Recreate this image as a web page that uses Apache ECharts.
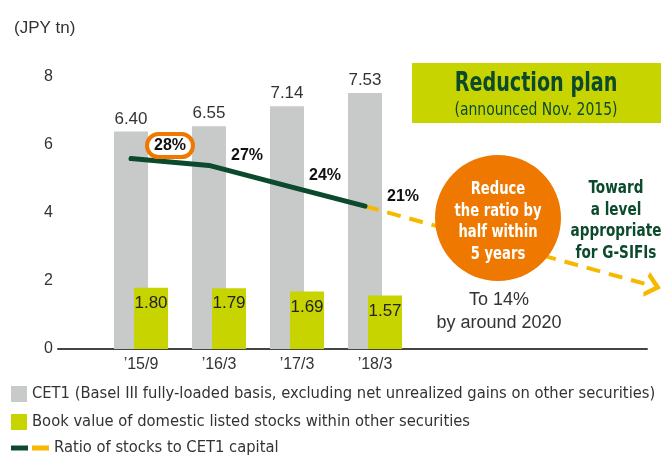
<!DOCTYPE html>
<html>
<head>
<meta charset="utf-8">
<script src="https://cdn.jsdelivr.net/npm/echarts@6/dist/echarts.min.js"></script>
<style>
  html, body { margin: 0; padding: 0; background: #fff; }
  #chart { width: 661px; height: 458px; }
</style>
</head>
<body>
<div id="chart"></div>
<script>
// data
var categories = ['\u201915/9', '\u201916/3', '\u201917/3', '\u201918/3'];
var cet1 = [6.40, 6.55, 7.14, 7.53];
var bookValue = [1.80, 1.79, 1.69, 1.57];
var ratio = [28, 27, 24, 21];          // % of CET1
var projectionRatio = [21, 9.3];       // dashed arrow, from '18/3 to arrow head
var yTicks = [0, 2, 4, 6, 8];

var NAME_CET1 = 'CET1 (Basel III fully-loaded basis, excluding net unrealized gains on other securities)';
var NAME_BOOK = 'Book value of domestic listed stocks within other securities';
var NAME_RATIO = 'Ratio of stocks to CET1 capital';

var GRAY = '#c8c9c9', LIME = '#c8d400', DKGREEN = '#0b4a2c', YELLOW = '#f7b900', ORANGE = '#ee7800';
var NARROW = '"DejaVu Sans Condensed", "Liberation Sans Narrow", "Liberation Sans", sans-serif';
var SANS = '"Liberation Sans", Arial, sans-serif';

var lineShift = -10 / 78;   // line points sit on the CET1 bar centre
var arrowX = 6.55;          // x of the arrow head (category units)

// condensed text block (no narrow font installed, so squeeze it)
function squeezed(x, y, text, font, fill, sx, lineHeight) {
  return {
    type: 'text', z: 101, x: x, y: y, scaleX: sx,
    style: {
      text: text, fill: fill, align: 'center', verticalAlign: 'middle',
      font: font, lineHeight: lineHeight
    }
  };
}

var chart = echarts.init(document.getElementById('chart'));

var option = {
  animation: false,
  title: {
    text: '(JPY tn)', left: 9, top: 15,
    textStyle: { fontFamily: SANS, fontSize: 17, fontWeight: 'normal', color: '#333' }
  },
  legend: [{
    orient: 'vertical', left: 11, top: 386, padding: 0,
    itemWidth: 16, itemHeight: 16, itemGap: 12,
    icon: 'rect',
    data: [NAME_CET1, NAME_BOOK],
    textStyle: { fontFamily: NARROW, fontSize: 16.4, color: '#333' },
    selectedMode: false
  }, {
    orient: 'vertical', left: 11, top: 440, padding: 0,
    itemWidth: 38, itemHeight: 5,
    data: [{
      name: NAME_RATIO,
      icon: 'path://M0,0H17V5H0Z M21,0H38V5H21Z',
      itemStyle: {
        color: {
          type: 'linear', x: 0, y: 0, x2: 1, y2: 0,
          colorStops: [
            { offset: 0, color: DKGREEN }, { offset: 0.5, color: DKGREEN },
            { offset: 0.5, color: YELLOW }, { offset: 1, color: YELLOW }
          ]
        }
      }
    }],
    textStyle: { fontFamily: NARROW, fontSize: 16.4, color: '#333' },
    selectedMode: false
  }],
  grid: [
    { left: 102, right: 247, top: 77, bottom: 109 },
    { left: 58, right: 14, top: 77, bottom: 109 }
  ],
  xAxis: [{
    type: 'category', gridIndex: 0, data: categories,
    axisLine: { show: false }, axisTick: { show: false },
    axisLabel: { fontFamily: SANS, fontSize: 16, color: '#333', margin: 8 }
  }, {
    type: 'value', gridIndex: 1, min: -1.064, max: 6.487,
    axisLine: { show: true, onZero: false, lineStyle: { color: '#444', width: 2 } },
    axisTick: { show: false }, axisLabel: { show: false }, splitLine: { show: false }
  }],
  yAxis: [{
    type: 'value', gridIndex: 0, min: yTicks[0], max: yTicks[yTicks.length - 1], interval: 2,
    axisLine: { show: false }, axisTick: { show: false }, splitLine: { show: false },
    axisLabel: { fontFamily: SANS, fontSize: 16, color: '#333', margin: 49 }
  }, {
    type: 'value', gridIndex: 1, min: 0, max: 40, show: false
  }],
  series: [{
    name: NAME_CET1, type: 'bar', xAxisIndex: 0, yAxisIndex: 0,
    data: cet1, barWidth: 34, barGap: '-41%',
    itemStyle: { color: GRAY },
    label: {
      show: true, position: 'top', distance: 4,
      fontFamily: SANS, fontSize: 17, color: '#333',
      formatter: function (p) { return p.value.toFixed(2); }
    }
  }, {
    name: NAME_BOOK, type: 'bar', xAxisIndex: 0, yAxisIndex: 0,
    data: bookValue, barWidth: 34, barGap: '-41%',
    itemStyle: { color: LIME },
    label: {
      show: true, position: 'insideTop', distance: 7,
      fontFamily: SANS, fontSize: 17, color: '#222',
      formatter: function (p) { return p.value.toFixed(2); }
    }
  }, {
    name: NAME_RATIO, type: 'line', xAxisIndex: 1, yAxisIndex: 1,
    data: ratio.map(function (v, i) {
      var d = { value: [i + lineShift, v] };
      if (i === 0) {
        d.label = {
          borderColor: ORANGE, borderWidth: 4, borderRadius: 14,
          padding: [4, 7, 3, 7], offset: [39, -13]
        };
      }
      return d;
    }),
    symbol: 'circle', symbolSize: 1, showSymbol: true,
    itemStyle: { color: DKGREEN },
    lineStyle: { color: DKGREEN, width: 5, cap: 'round' },
    label: {
      show: true, position: 'inside', offset: [38, -10],
      fontFamily: SANS, fontSize: 16, fontWeight: 'bold', color: '#111',
      formatter: function (p) { return p.value[1] + '%'; }
    },
    z: 5
  }, {
    name: 'projection', type: 'line', xAxisIndex: 1, yAxisIndex: 1,
    data: [
      { value: [3 + lineShift, projectionRatio[0]], symbol: 'none' },
      {
        value: [arrowX, projectionRatio[1]],
        symbol: 'path://M0,0L12,11L0,22', symbolSize: [12, 21], symbolRotate: -15,
        itemStyle: { color: 'rgba(0,0,0,0)', borderColor: YELLOW, borderWidth: 4 }
      }
    ],
    clip: false,
    lineStyle: { color: YELLOW, width: 4, type: [14, 9] },
    label: { show: false },
    z: 4
  }],
  graphic: [{
    type: 'rect', z: 100,
    shape: { x: 412, y: 63, width: 249, height: 60 },
    style: { fill: LIME }
  },
    squeezed(536, 84, 'Reduction plan', 'bold 26px ' + NARROW, DKGREEN, 0.82),
    squeezed(536, 110, '(announced Nov. 2015)', '18px ' + NARROW, DKGREEN, 0.86),
  {
    type: 'circle', z: 100,
    shape: { cx: 498, cy: 218, r: 63 },
    style: { fill: ORANGE }
  },
    squeezed(498, 222, 'Reduce\nthe ratio by\nhalf within\n5 years', 'bold 17px ' + NARROW, '#fff', 0.86, 21.5),
    squeezed(616, 221, 'Toward\na level\nappropriate\nfor G-SIFIs', 'bold 17px ' + NARROW, DKGREEN, 0.89, 21.7),
  {
    type: 'text', z: 101, x: 499, y: 312,
    style: {
      text: 'To 14%\nby around 2020', fill: '#333',
      align: 'center', verticalAlign: 'middle', lineHeight: 23,
      font: '18px ' + SANS
    }
  }]
};

chart.setOption(option);
</script>
</body>
</html>
